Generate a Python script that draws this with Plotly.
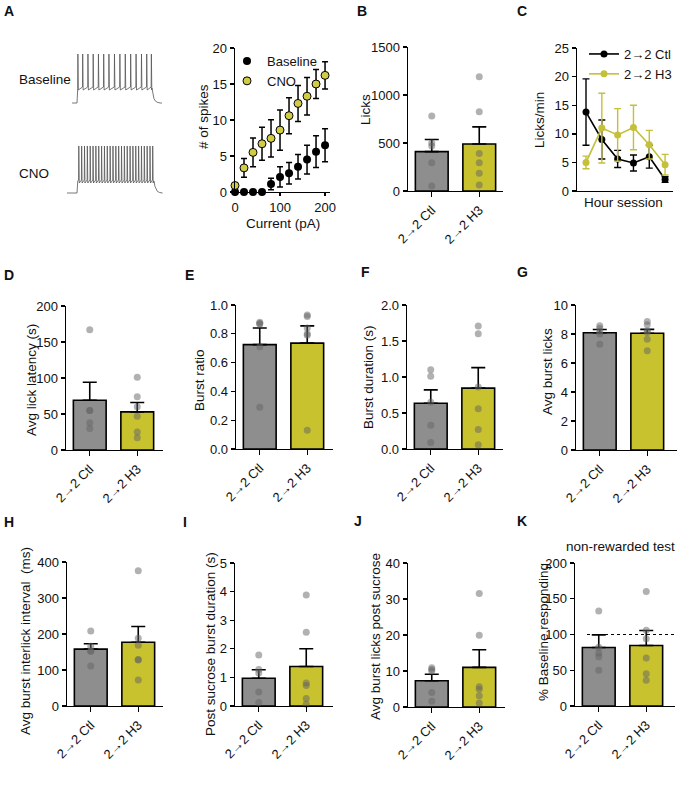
import plotly.graph_objects as go

W, H = 685, 791
FONT = "Liberation Sans, Arial, sans-serif"
INK = "#111111"
GRAY_BAR = "#8e8e8e"
YEL_BAR = "#c9c22f"
YEL_MARK = "#d0cc45"
PT_COLOR = "rgba(100,100,100,0.5)"

groups = ["2→2 Ctl", "2→2 H3"]

# ---- Panel A: example traces (times in ms, membrane potential in mV) ----
base_spike_t = [6, 38, 73, 108, 143, 178, 213, 250, 286, 322, 358, 394, 430, 465, 496]
cno_spike_t = [12, 31, 50, 69, 88, 107, 126, 145, 164, 183, 202, 221, 240, 259, 278,
               297, 316, 335, 354, 373, 392, 411, 430, 449, 468, 487, 505]
base_levels = {"rest": -70, "plateau": -55, "pre": -54, "trough": -57, "peak": -21, "start": -33, "off": 498, "end": 567}
cno_levels = {"rest": -70, "plateau": -58, "pre": -57, "trough": -60, "peak": -23, "start": -67, "off": 512, "end": 567}
decay_dt = [0, 6, 13, 22, 35, 55]
decay_frac = [1.0, 0.55, 0.3, 0.14, 0.05, 0.0]

# ---- Panel A: current-spike relation ----
current_pA = [0, 20, 40, 60, 80, 100, 120, 140, 160, 180, 200]
base_spikes = [0, 0, 0, 0, 1.1, 2.1, 2.6, 3.5, 4.5, 5.6, 6.5]
base_spikes_sem = [0, 0, 0, 0, 0.8, 1.4, 1.5, 1.7, 2.0, 2.2, 2.3]
cno_spikes = [0.9, 3.35, 5.5, 6.7, 7.45, 8.6, 10.6, 12.3, 13.3, 15.0, 16.2]
cno_spikes_sem = [0.3, 1.3, 2.0, 2.3, 2.6, 2.8, 2.5, 2.5, 2.6, 2.0, 1.9]

# ---- Panel C: licks/min over hour session ----
session_bin = [1, 2, 3, 4, 5, 6]
ctl_rate = [13.8, 9.0, 5.6, 4.9, 6.0, 2.0]
ctl_rate_sem = [5.8, 3.4, 1.5, 1.4, 2.0, 0.5]
h3_rate = [5.0, 11.0, 9.8, 11.1, 8.1, 4.6]
h3_rate_sem = [1.1, 6.1, 4.6, 3.9, 2.5, 1.8]

# ---- bar panels: means, SEM, individual animals ----
licks_mean = [410, 490]; licks_sem = [127, 178]
licks_ctl = [780, 500, 470, 295, 52]; licks_h3 = [1190, 825, 390, 295, 185, 62]

latency_mean = [69, 53]; latency_sem = [25, 13]
latency_ctl = [167, 55, 55, 38, 30]; latency_h3 = [101, 74, 60, 47, 25, 17]

ratio_mean = [0.725, 0.735]; ratio_sem = [0.115, 0.12]
ratio_ctl = [0.88, 0.87, 0.87, 0.71, 0.29]; ratio_h3 = [0.93, 0.92, 0.84, 0.80, 0.79, 0.13]

bdur_mean = [0.636, 0.845]; bdur_sem = [0.185, 0.285]
bdur_ctl = [1.10, 1.01, 0.65, 0.33, 0.09]; bdur_h3 = [1.71, 1.60, 0.86, 0.56, 0.27, 0.06]

blicks_mean = [8.09, 8.05]; blicks_sem = [0.22, 0.27]
blicks_ctl = [8.57, 8.39, 8.19, 8.0, 7.3]; blicks_h3 = [8.87, 8.64, 8.2, 8.1, 7.64, 6.85]

ili_mean = [158, 177]; ili_sem = [15, 44]
ili_ctl = [208, 166, 153, 152, 111]; ili_h3 = [376, 188, 169, 129, 128, 72]

psdur_mean = [0.97, 1.38]; psdur_sem = [0.30, 0.62]
psdur_ctl = [1.78, 1.28, 1.15, 0.49, 0.12]; psdur_h3 = [3.88, 2.58, 0.80, 0.72, 0.26, 0.06]

pslicks_mean = [7.3, 11.0]; pslicks_sem = [1.8, 4.9]
pslicks_ctl = [10.9, 10.4, 10.0, 4.0, 1.6]; pslicks_h3 = [31.5, 19.9, 5.6, 4.9, 3.1, 1.1]

pct_mean = [81.8, 84.6]; pct_sem = [17.7, 21.0]
pct_ctl = [133, 82, 74, 69, 50]; pct_h3 = [160, 106, 94, 67, 45, 36]
baseline_ref = 100


def dx(a, b):
    return [a / W, b / W]


def dy(top, bottom):
    return [1 - bottom / H, 1 - top / H]


def build_trace(spikes, lv):
    t = [lv["start"], 0, 5]
    v = [lv["rest"], lv["rest"], lv["plateau"]]
    for s in spikes:
        t += [s - 1.5, s, s + 3]
        v += [lv["pre"], lv["peak"], lv["trough"]]
    t += [lv["off"]]
    v += [lv["plateau"]]
    for d, f in zip(decay_dt, decay_frac):
        t.append(lv["off"] + 2 + d)
        v.append(lv["rest"] + f * (lv["plateau"] - lv["rest"]))
    t.append(lv["end"])
    v.append(lv["rest"])
    return t, v


fig = go.Figure()
layout = {}

base_axis = dict(showline=True, linecolor="black", linewidth=1.4, ticks="outside",
                 ticklen=4, tickwidth=1.4, tickcolor="black", showgrid=False,
                 zeroline=False, tickfont=dict(family=FONT, size=13, color=INK),
                 fixedrange=True, automargin=False)
hidden = dict(visible=False, showgrid=False, zeroline=False, fixedrange=True, automargin=False)

# trace axes
ms_per_px = 6.67
tr_x_range = [(60 - 77) * ms_per_px, (170 - 77) * ms_per_px]
layout["xaxis"] = dict(hidden, domain=dx(60, 170), range=tr_x_range, anchor="y")
layout["yaxis"] = dict(hidden, domain=dy(45, 110), range=[-70 - (110 - 103), -70 + (103 - 45)], anchor="x")
layout["xaxis2"] = dict(hidden, domain=dx(60, 170), range=tr_x_range, anchor="y2")
layout["yaxis2"] = dict(hidden, domain=dy(140, 200), range=[-70 - (200 - 193), -70 + (193 - 140)], anchor="x2")

bt, bv = build_trace(base_spike_t, base_levels)
ct, cv = build_trace(cno_spike_t, cno_levels)
fig.add_trace(go.Scatter(x=bt, y=bv, mode="lines", line=dict(color="#555555", width=0.8),
                         xaxis="x", yaxis="y", showlegend=False, hoverinfo="skip"))
fig.add_trace(go.Scatter(x=ct, y=cv, mode="lines", line=dict(color="#555555", width=0.8),
                         xaxis="x2", yaxis="y2", showlegend=False, hoverinfo="skip"))

# spike plot
layout["xaxis3"] = dict(base_axis, domain=dx(235, 330), range=[0, 211], anchor="y3",
                        tickvals=[0, 100, 200], ticklen=3)
layout["yaxis3"] = dict(base_axis, domain=dy(48, 192), range=[0, 20], anchor="x3",
                        tickvals=[0, 5, 10, 15, 20])
fig.add_trace(go.Scatter(x=current_pA, y=base_spikes, mode="markers", name="Baseline",
                         marker=dict(color="black", size=8),
                         error_y=dict(type="data", array=base_spikes_sem, color="black", thickness=1.5, width=3),
                         xaxis="x3", yaxis="y3", legend="legend", cliponaxis=False))
fig.add_trace(go.Scatter(x=current_pA, y=cno_spikes, mode="markers", name="CNO",
                         marker=dict(color=YEL_MARK, size=8, line=dict(color="black", width=1)),
                         error_y=dict(type="data", array=cno_spikes_sem, color="black", thickness=1.5, width=3),
                         xaxis="x3", yaxis="y3", legend="legend", cliponaxis=False))

# panel C
layout["xaxis5"] = dict(base_axis, domain=dx(577, 673), range=[0.43, 6.5], anchor="y5",
                        ticks="", showticklabels=False)
layout["yaxis5"] = dict(base_axis, domain=dy(48, 191), range=[0, 25], anchor="x5",
                        tickvals=[0, 5, 10, 15, 20, 25])
fig.add_trace(go.Scatter(x=session_bin, y=ctl_rate, mode="lines+markers", name="2→2 Ctl",
                         line=dict(color="black", width=1.6), marker=dict(color="black", size=7),
                         error_y=dict(type="data", array=ctl_rate_sem, color="black", thickness=1.4, width=3.5),
                         xaxis="x5", yaxis="y5", legend="legend2"))
fig.add_trace(go.Scatter(x=session_bin, y=h3_rate, mode="lines+markers", name="2→2 H3",
                         line=dict(color="#c4c03a", width=1.6), marker=dict(color="#c4c03a", size=7),
                         error_y=dict(type="data", array=h3_rate_sem, color="#c4c03a", thickness=1.4, width=3.5),
                         xaxis="x5", yaxis="y5", legend="legend2"))

# bar panels
bar_panels = [
    (4, (408, 503), (47, 191), [0, 1500], [0, 500, 1000, 1500], None, licks_mean, licks_sem, licks_ctl, licks_h3),
    (6, (66, 163), (306, 450), [0, 200], [0, 50, 100, 150, 200], None, latency_mean, latency_sem, latency_ctl, latency_h3),
    (7, (236, 333), (305, 449), [0, 1], [0, 0.2, 0.4, 0.6, 0.8, 1.0], ".1f", ratio_mean, ratio_sem, ratio_ctl, ratio_h3),
    (8, (407, 503), (305, 449), [0, 2], [0, 0.5, 1.0, 1.5, 2.0], ".1f", bdur_mean, bdur_sem, bdur_ctl, bdur_h3),
    (9, (576, 677), (305, 450), [0, 10], [0, 2, 4, 6, 8, 10], None, blicks_mean, blicks_sem, blicks_ctl, blicks_h3),
    (10, (67, 163), (562, 706), [0, 400], [0, 100, 200, 300, 400], None, ili_mean, ili_sem, ili_ctl, ili_h3),
    (11, (235, 333), (563, 706), [0, 5], [0, 1, 2, 3, 4, 5], None, psdur_mean, psdur_sem, psdur_ctl, psdur_h3),
    (12, (408, 505), (563, 707), [0, 40], [0, 10, 20, 30, 40], None, pslicks_mean, pslicks_sem, pslicks_ctl, pslicks_h3),
    (13, (575, 675), (563, 706), [0, 200], [0, 50, 100, 150, 200], None, pct_mean, pct_sem, pct_ctl, pct_h3),
]
cat_px = 47.5
for idx, (x0, x1), (t0, b0), yr, yt, fmt, mean, sem, ctl, h3 in bar_panels:
    xa, ya = f"x{idx}", f"y{idx}"
    layout[f"xaxis{idx}"] = dict(base_axis, domain=dx(x0, x1), range=[-0.5, -0.5 + (x1 - x0) / cat_px],
                                 anchor=ya, tickvals=[0, 1], ticktext=groups, tickangle=-45, ticklen=5)
    yax = dict(base_axis, domain=dy(t0, b0), range=yr, anchor=xa, tickvals=yt)
    if fmt:
        yax["tickformat"] = fmt
    layout[f"yaxis{idx}"] = yax
    fig.add_trace(go.Bar(x=[0, 1], y=mean, width=0.69, marker=dict(color=[GRAY_BAR, YEL_BAR],
                         line=dict(color="black", width=1.6)),
                         error_y=dict(type="data", symmetric=False, array=sem, arrayminus=[0, 0],
                                      color="black", thickness=1.6, width=7),
                         xaxis=xa, yaxis=ya, showlegend=False, hoverinfo="skip"))
    fig.add_trace(go.Scatter(x=[0] * len(ctl) + [1] * len(h3), y=ctl + h3, mode="markers",
                             marker=dict(color=PT_COLOR, size=7), xaxis=xa, yaxis=ya,
                             showlegend=False, hoverinfo="skip", cliponaxis=False))

fig.add_shape(type="line", xref="x13 domain", yref="y13", x0=0.12, x1=1.0, y0=baseline_ref, y1=baseline_ref,
              line=dict(color="black", width=1.2, dash="dot"))

annotations = []


def txt(x, y, s, size=13.5, bold=False, angle=0, xanchor="center"):
    annotations.append(dict(x=x / W, y=1 - y / H, xref="paper", yref="paper", text=f"<b>{s}</b>" if bold else s,
                            showarrow=False, textangle=angle, xanchor=xanchor, yanchor="middle",
                            font=dict(family=FONT, size=size, color=INK)))


for lab, x, y in [("A", 9, 11), ("B", 362, 11), ("C", 522, 11), ("D", 9, 275), ("E", 189, 275),
                  ("F", 365, 272), ("G", 522, 272), ("H", 9, 522), ("I", 185, 522), ("J", 358, 521), ("K", 522, 521)]:
    txt(x, y, lab, size=14, bold=True)

txt(17, 80, "Baseline", xanchor="left")
txt(17, 173, "CNO", xanchor="left")
txt(283, 223, "Current (pA)")
txt(623, 203, "Hour session")
txt(620, 546, "non-rewarded test")

for s, x, y in [("# of spikes", 203, 117), ("Licks", 365, 110), ("Licks/min", 540, 120),
                ("Avg lick latency (s)", 32, 380), ("Burst ratio", 200, 380), ("Burst duration (s)", 368, 377),
                ("Avg burst licks", 547, 372), ("Avg burst interlick interval  (ms)", 25, 641),
                ("Post sucrose burst duration (s)", 210, 644), ("Avg burst licks post sucrose", 375, 637),
                ("% Baseline responding", 543, 632)]:
    txt(x, y, s, angle=-90)

layout["annotations"] = annotations
layout["legend"] = dict(x=227 / W, y=1 - 46 / H, xanchor="left", yanchor="top", bgcolor="rgba(0,0,0,0)",
                        font=dict(family=FONT, size=13, color=INK), itemwidth=30, tracegroupgap=0)
layout["legend2"] = dict(x=584 / W, y=1 - 39 / H, xanchor="left", yanchor="top", bgcolor="rgba(0,0,0,0)",
                         font=dict(family=FONT, size=13, color=INK), itemwidth=30, tracegroupgap=0)

fig.update_layout(template="none", width=W, height=H, margin=dict(l=0, r=0, t=0, b=0, autoexpand=False),
                  paper_bgcolor="white", plot_bgcolor="white", bargap=0,
                  font=dict(family=FONT, size=13, color=INK), **layout)

fig.write_html("out.html", config={"displayModeBar": False, "staticPlot": True},
               post_script="document.body.style.margin='0';document.body.style.overflow='hidden';")
